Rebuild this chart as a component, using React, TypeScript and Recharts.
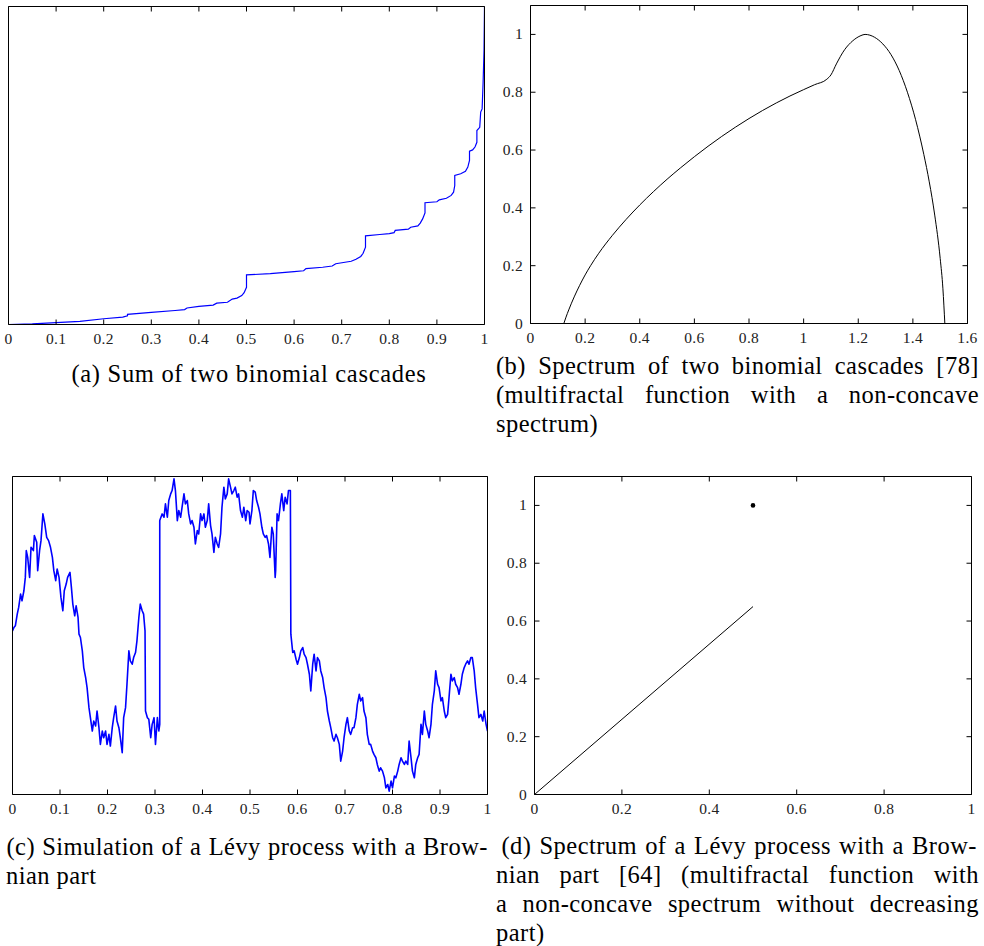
import React from 'react';
import { LineChart, Line, XAxis, YAxis } from 'recharts';

const SERIF = '"Liberation Serif", "Times New Roman", serif';
const INK = '#000';
const LABEL_INK = '#222';
const BLUE = '#0000ff';
const TICK = 5;

// (a) sum of two binomial cascades, jumps at dyadic points
const cascadeX = [
  0, 0.05, 0.1, 0.15, 0.2, 0.24, 0.25, 0.25, 0.3, 0.35, 0.37, 0.375, 0.4, 0.43, 0.4375, 0.46, 0.47, 0.48,
  0.49, 0.495, 0.5, 0.5, 0.55, 0.6, 0.62, 0.625, 0.66, 0.68, 0.6875, 0.72, 0.73, 0.74, 0.745, 0.75, 0.75,
  0.78, 0.8, 0.81, 0.8125, 0.84, 0.845, 0.86, 0.865, 0.87, 0.875, 0.875, 0.9, 0.905, 0.92, 0.93, 0.935,
  0.9375, 0.9375, 0.95, 0.96, 0.965, 0.9685, 0.9685, 0.975, 0.98, 0.984, 0.984, 0.99, 0.992, 0.995, 0.997,
  0.999, 1,
];
const cascadeY = [
  0, 0.002, 0.006, 0.01, 0.018, 0.023, 0.027, 0.032, 0.038, 0.044, 0.047, 0.052, 0.057, 0.061, 0.067, 0.07,
  0.08, 0.083, 0.091, 0.1, 0.117, 0.156, 0.16, 0.166, 0.169, 0.176, 0.18, 0.184, 0.191, 0.199, 0.205, 0.214,
  0.224, 0.243, 0.279, 0.283, 0.286, 0.289, 0.296, 0.3, 0.306, 0.31, 0.319, 0.332, 0.351, 0.383, 0.386,
  0.392, 0.397, 0.406, 0.416, 0.437, 0.469, 0.474, 0.482, 0.495, 0.516, 0.545, 0.549, 0.558, 0.573, 0.61,
  0.62, 0.668, 0.678, 0.757, 0.862, 1,
];

// (b) spectrum of two binomial cascades
const spectrumX = [
  0.122, 0.13, 0.14, 0.16, 0.18, 0.2, 0.22, 0.25, 0.3, 0.35, 0.4, 0.45, 0.5, 0.55, 0.6, 0.65, 0.7, 0.75, 0.8,
  0.85, 0.9, 0.95, 1.0, 1.04, 1.085, 1.1, 1.12, 1.15, 1.18, 1.21, 1.225, 1.26, 1.29, 1.32, 1.35, 1.38, 1.41,
  1.44, 1.46, 1.48, 1.5, 1.51, 1.517,
];
const spectrumY = [
  0, 0.022, 0.047, 0.092, 0.132, 0.168, 0.2, 0.243, 0.305, 0.36, 0.41, 0.456, 0.499, 0.539, 0.577, 0.613,
  0.647, 0.679, 0.709, 0.737, 0.763, 0.787, 0.809, 0.826, 0.845, 0.86, 0.898, 0.947, 0.978, 0.996, 1.0, 0.99,
  0.967, 0.93, 0.875, 0.8, 0.705, 0.585, 0.49, 0.375, 0.225, 0.12, 0,
];

// (c) Lévy process with a Brownian part (vertical axis in arbitrary units)
const levyX = [
  0, 0.003, 0.006, 0.01, 0.013, 0.017, 0.02, 0.024, 0.027, 0.029, 0.032, 0.036, 0.039, 0.044, 0.046, 0.051,
  0.053, 0.057, 0.06, 0.064, 0.068, 0.072, 0.076, 0.08, 0.084, 0.087, 0.091, 0.094, 0.098, 0.102, 0.106,
  0.109, 0.113, 0.116, 0.121, 0.124, 0.127, 0.131, 0.134, 0.138, 0.14, 0.143, 0.147, 0.15, 0.154, 0.157,
  0.161, 0.164, 0.168, 0.171, 0.175, 0.178, 0.182, 0.185, 0.189, 0.192, 0.196, 0.199, 0.203, 0.206, 0.21,
  0.213, 0.217, 0.22, 0.224, 0.227, 0.231, 0.234, 0.238, 0.241, 0.245, 0.248, 0.252, 0.255, 0.259, 0.262,
  0.266, 0.269, 0.273, 0.276, 0.279, 0.28, 0.284, 0.287, 0.291, 0.294, 0.298, 0.301, 0.305, 0.308, 0.31,
  0.31, 0.315, 0.319, 0.322, 0.326, 0.329, 0.333, 0.336, 0.34, 0.343, 0.347, 0.35, 0.354, 0.357, 0.361,
  0.364, 0.368, 0.371, 0.375, 0.378, 0.382, 0.385, 0.389, 0.392, 0.396, 0.399, 0.403, 0.406, 0.41, 0.413,
  0.417, 0.42, 0.424, 0.427, 0.431, 0.434, 0.438, 0.441, 0.445, 0.448, 0.452, 0.455, 0.459, 0.462, 0.466,
  0.469, 0.473, 0.476, 0.48, 0.484, 0.487, 0.491, 0.494, 0.498, 0.5, 0.504, 0.507, 0.511, 0.514, 0.518,
  0.521, 0.525, 0.528, 0.532, 0.535, 0.539, 0.542, 0.546, 0.549, 0.553, 0.554, 0.557, 0.56, 0.564, 0.567,
  0.571, 0.574, 0.578, 0.581, 0.585, 0.586, 0.59, 0.593, 0.597, 0.6, 0.604, 0.607, 0.611, 0.614, 0.618,
  0.621, 0.625, 0.628, 0.632, 0.635, 0.639, 0.642, 0.646, 0.649, 0.653, 0.656, 0.66, 0.663, 0.667, 0.67,
  0.674, 0.677, 0.681, 0.684, 0.688, 0.691, 0.695, 0.698, 0.702, 0.705, 0.709, 0.712, 0.716, 0.719, 0.723,
  0.726, 0.73, 0.733, 0.737, 0.74, 0.744, 0.747, 0.751, 0.754, 0.758, 0.761, 0.765, 0.768, 0.772, 0.775,
  0.779, 0.783, 0.786, 0.79, 0.793, 0.797, 0.8, 0.804, 0.807, 0.811, 0.814, 0.818, 0.821, 0.825, 0.828,
  0.832, 0.835, 0.839, 0.842, 0.846, 0.849, 0.853, 0.856, 0.86, 0.863, 0.867, 0.87, 0.874, 0.877, 0.881,
  0.884, 0.888, 0.891, 0.895, 0.898, 0.902, 0.905, 0.909, 0.912, 0.916, 0.919, 0.923, 0.926, 0.93, 0.933,
  0.937, 0.94, 0.944, 0.947, 0.951, 0.954, 0.958, 0.961, 0.965, 0.968, 0.972, 0.975, 0.979, 0.982, 0.986,
  0.99, 0.993, 0.997, 1.0,
];
const levyY = [
  49, 50, 50.5, 54, 56, 60, 58, 61, 65, 73, 71, 65, 74, 73, 77.5, 75.5, 67, 73, 76, 84, 81, 77, 76, 74, 71,
  67, 64, 67.5, 65, 59, 55, 61, 63, 65, 66.5, 62, 57, 53.5, 56.5, 53, 48, 47, 43, 38, 35, 32, 26, 23, 19, 22,
  20.5, 25, 20, 15, 19, 17, 19, 15, 18, 14.5, 20, 23, 26.5, 22, 20, 17, 12.5, 23, 26, 33, 43, 40, 39, 41,
  42.5, 46, 53, 57, 55, 54, 49, 25, 23, 22.5, 17, 21, 23, 15, 23, 19, 21, 82, 84, 83, 87, 83, 88, 90, 91,
  94.5, 91, 82, 85, 83, 86, 90, 87, 88, 84, 81, 82, 80, 75, 79, 78, 84, 82, 84, 80, 82, 87, 80.5, 78, 72.5,
  77, 75, 74, 78, 86, 92, 88.5, 90, 94.5, 92, 90, 91, 92, 89, 90, 85, 83, 86, 82, 85, 84.5, 81, 85, 91, 90.5,
  88, 86, 84, 80, 78, 77, 77.5, 75, 71, 80, 78, 65, 67, 84, 82, 87, 90, 85, 89, 87, 91, 91, 48, 42.5, 43,
  40.5, 39, 41, 43, 44, 42, 41, 39, 36, 31, 39, 42, 37, 41, 40, 37, 35, 32, 29, 25, 22, 20, 17, 16, 18, 17,
  15, 10, 13, 17, 21, 23, 19, 18, 20, 20, 23, 27, 30, 28, 29, 25, 23, 18, 15, 15, 13, 12, 11, 9, 7, 8, 7, 5,
  2, 3, 1, 4, 2, 5.5, 5, 7, 9, 11, 10, 9, 10, 9, 16, 11, 7, 5, 9, 11, 12, 21, 18, 25, 21, 19, 17, 21, 27, 31,
  37, 33, 32, 28, 29, 25, 23, 24, 29, 36, 34, 35, 33, 32, 30, 33, 36, 38, 39, 40, 39, 41, 41, 37, 32, 27, 23,
  24, 22, 25, 21, 19,
];

// (d) spectrum of the Lévy process: linear part plus an isolated point
const levySpecX = [0, 0.5];
const levySpecY = [0, 0.65];
const isolatedX = [0.5];
const isolatedY = [1];

const tenthTicks = [0, 0.1, 0.2, 0.3, 0.4, 0.5, 0.6, 0.7, 0.8, 0.9, 1];
const spectrumXTicks = [0, 0.2, 0.4, 0.6, 0.8, 1, 1.2, 1.4, 1.6];
const fifthTicks = [0, 0.2, 0.4, 0.6, 0.8, 1];

const zip = (xs: number[], ys: number[]) => xs.map((x, i) => ({ x, y: ys[i] }));

const labelStyle = { fontFamily: SERIF, fontSize: 15.5, fill: LABEL_INK, letterSpacing: 0.3 };

// ticks point into the plot box, labels sit outside
const BottomTick = ({ x, y, payload }: any) => (
  <g>
    <line x1={x} y1={y} x2={x} y2={y - TICK} stroke={INK} />
    <text x={x} y={y + 19} textAnchor="middle" {...labelStyle}>
      {payload.value}
    </text>
  </g>
);
const TopTick = ({ x, y }: any) => <line x1={x} y1={y} x2={x} y2={y + TICK} stroke={INK} />;
const LeftTick = ({ x, y, payload }: any) => (
  <g>
    <line x1={x} y1={y} x2={x + TICK} y2={y} stroke={INK} />
    <text x={x - 7.5} y={y + 5} textAnchor="end" {...labelStyle}>
      {payload.value}
    </text>
  </g>
);
const RightTick = ({ x, y }: any) => <line x1={x} y1={y} x2={x - TICK} y2={y} stroke={INK} />;

const axisLine = { stroke: INK, strokeWidth: 1 };

type Box = { left: number; top: number; width: number; height: number };

// half-pixel offset keeps the 1px frame sharp
const HALF = 0.5;

function Panel({
  frame,
  plot,
  xDomain,
  xTicks,
  yDomain,
  yTicks,
  children,
}: {
  frame: Box;
  plot: Box;
  xDomain: [number, number];
  xTicks: number[];
  yDomain: [number, number];
  yTicks?: number[];
  children: React.ReactNode;
}) {
  const rightW = frame.width - HALF - plot.left - plot.width;
  const bottomH = frame.height - HALF - plot.top - plot.height;
  return (
    <div style={{ position: 'absolute', left: frame.left, top: frame.top }}>
      <LineChart
        width={frame.width}
        height={frame.height}
        margin={{ top: HALF, right: 0, bottom: 0, left: HALF }}
      >
        <XAxis
          dataKey="x"
          type="number"
          domain={xDomain}
          ticks={xTicks}
          interval={0}
          allowDataOverflow
          height={bottomH}
          tickSize={0}
          tickMargin={0}
          tickLine={false}
          axisLine={axisLine}
          tick={<BottomTick />}
        />
        <XAxis
          xAxisId="top"
          orientation="top"
          dataKey="x"
          type="number"
          domain={xDomain}
          ticks={xTicks}
          interval={0}
          allowDataOverflow
          height={plot.top}
          tickSize={0}
          tickMargin={0}
          tickLine={false}
          axisLine={axisLine}
          tick={<TopTick />}
        />
        <YAxis
          type="number"
          domain={yDomain}
          ticks={yTicks}
          interval={0}
          allowDataOverflow
          width={plot.left}
          tickSize={0}
          tickMargin={0}
          tickLine={false}
          axisLine={axisLine}
          tick={yTicks ? <LeftTick /> : false}
        />
        <YAxis
          yAxisId="right"
          orientation="right"
          type="number"
          domain={yDomain}
          ticks={yTicks}
          interval={0}
          allowDataOverflow
          width={rightW}
          tickSize={0}
          tickMargin={0}
          tickLine={false}
          axisLine={axisLine}
          tick={yTicks ? <RightTick /> : false}
        />
        {children}
      </LineChart>
    </div>
  );
}

function JustifiedLine({ text, left, width }: { text: string; left: number; width: number }) {
  return (
    <div
      style={{
        position: 'relative',
        left,
        width,
        display: 'flex',
        justifyContent: 'space-between',
        whiteSpace: 'nowrap',
      }}
    >
      {text.split(' ').map((w, i) => (
        <span key={i}>{w}</span>
      ))}
    </div>
  );
}

function PlainLine({ text, left }: { text: string; left: number }) {
  return <div style={{ position: 'relative', left, whiteSpace: 'nowrap' }}>{text}</div>;
}

const captionStyle: React.CSSProperties = {
  position: 'absolute',
  left: 0,
  fontFamily: SERIF,
  fontSize: 24.5,
  lineHeight: '29px',
  letterSpacing: 0.45,
  color: '#000',
};

export default function App() {
  return (
    <div style={{ position: 'absolute', left: 0, top: 0, width: 984, height: 946, background: '#fff' }}>
      <Panel
        frame={{ left: 0, top: 0, width: 500, height: 360 }}
        plot={{ left: 8, top: 6, width: 476, height: 318 }}
        xDomain={[0, 1]}
        xTicks={tenthTicks}
        yDomain={[0, 1]}
      >
        <Line
          data={zip(cascadeX, cascadeY)}
          dataKey="y"
          type="linear"
          stroke={BLUE}
          strokeWidth={1.2}
          dot={false}
          activeDot={false}
          isAnimationActive={false}
        />
      </Panel>

      <Panel
        frame={{ left: 490, top: 0, width: 494, height: 360 }}
        plot={{ left: 40, top: 5, width: 437, height: 318 }}
        xDomain={[0, 1.6]}
        xTicks={spectrumXTicks}
        yDomain={[0, 1.1]}
        yTicks={fifthTicks}
      >
        <Line
          data={zip(spectrumX, spectrumY)}
          dataKey="y"
          type="monotone"
          stroke={INK}
          strokeWidth={1}
          dot={false}
          activeDot={false}
          isAnimationActive={false}
        />
      </Panel>

      <Panel
        frame={{ left: 0, top: 465, width: 500, height: 360 }}
        plot={{ left: 12, top: 11, width: 475, height: 318 }}
        xDomain={[0, 1]}
        xTicks={tenthTicks}
        yDomain={[0, 95.2]}
      >
        <Line
          data={zip(levyX, levyY)}
          dataKey="y"
          type="linear"
          stroke={BLUE}
          strokeWidth={1.6}
          strokeLinejoin="round"
          dot={false}
          activeDot={false}
          isAnimationActive={false}
        />
      </Panel>

      <Panel
        frame={{ left: 490, top: 465, width: 494, height: 360 }}
        plot={{ left: 44, top: 11, width: 437, height: 318 }}
        xDomain={[0, 1]}
        xTicks={fifthTicks}
        yDomain={[0, 1.1]}
        yTicks={fifthTicks}
      >
        <Line
          data={zip(levySpecX, levySpecY)}
          dataKey="y"
          type="linear"
          stroke={INK}
          strokeWidth={1}
          dot={false}
          activeDot={false}
          isAnimationActive={false}
        />
        <Line
          data={zip(isolatedX, isolatedY)}
          dataKey="y"
          stroke="none"
          dot={{ r: 2.3, fill: INK, stroke: 'none' }}
          activeDot={false}
          isAnimationActive={false}
        />
      </Panel>

      <div
        style={{
          ...captionStyle,
          top: 359.2,
          width: 498,
          textAlign: 'center',
          whiteSpace: 'nowrap',
          letterSpacing: 0.7,
        }}
      >
        (a) Sum of two binomial cascades
      </div>

      <div style={{ ...captionStyle, top: 350.5 }}>
        <JustifiedLine text="(b) Spectrum of two binomial cascades [78]" left={496} width={483} />
        <JustifiedLine text="(multifractal function with a non-concave" left={496} width={483} />
        <PlainLine text="spectrum)" left={496} />
      </div>

      <div style={{ ...captionStyle, top: 831.5 }}>
        <JustifiedLine text="(c) Simulation of a Lévy process with a Brow-" left={6.5} width={481.5} />
        <PlainLine text="nian part" left={6} />
      </div>

      <div style={{ ...captionStyle, top: 831.3 }}>
        <JustifiedLine text="(d) Spectrum of a Lévy process with a Brow-" left={501.5} width={475.5} />
        <JustifiedLine text="nian part [64] (multifractal function with" left={496} width={483} />
        <JustifiedLine text="a non-concave spectrum without decreasing" left={496} width={483} />
        <PlainLine text="part)" left={496} />
      </div>
    </div>
  );
}
